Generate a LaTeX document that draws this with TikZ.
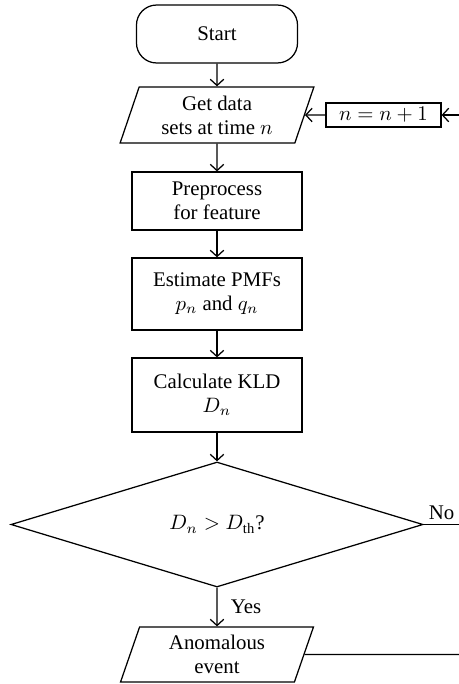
\documentclass[tikz,border=0pt]{standalone}
\usepackage{fontspec}
\setmainfont{Liberation Serif}
\usetikzlibrary{shapes.geometric,arrows.meta}
\tikzset{
	khung/.style={draw,rectangle,minimum width=81.6pt,align=center,inner sep=1pt},
	hbh/.style={draw,trapezium,trapezium left angle=66,trapezium right angle=114,
		trapezium stretches body,minimum width=93pt,minimum height=26.9pt,
		align=center,inner sep=1pt},
}
\begin{document}
\begin{tikzpicture}[x=0.48pt,y=-0.48pt,line width=0.6pt,
	>={Straight Barb[length=3pt,width=6.5pt]},
	font=\fontsize{10}{11.5}\selectfont]
	\useasboundingbox (0,0) rectangle (459,684);
	%Khung bat dau
	\node[draw,rectangle,rounded corners=9.6pt,minimum width=77.3pt,minimum height=27.8pt] (batdau) at (217,34) {Start};
	%Khung 1
	\node[hbh] (laydl) at (217,115) {Get data\\sets at time $n$};
	\node[khung,minimum width=55.2pt,minimum height=11.5pt] (tang) at (383.5,115) {$n=n+1$};
	%Khung 2,3,4
	\node[khung,minimum height=27.8pt] (tienxl) at (217,201) {Preprocess\\for feature};
	\node[khung,minimum height=34.6pt] (uocluong) at (217,294) {Estimate PMFs\\$p_n$ and $q_n$};
	\node[khung,minimum height=35.5pt] (tinh) at (217,395) {Calculate KLD\\$D_n$};
	%Dieu kien
	\node[draw,diamond,minimum width=197.8pt,minimum height=60pt,inner sep=0pt] (dk) at (217,524.5) {$D_n > D_{\mathrm{th}}$?};
	%Ket qua
	\node[hbh,minimum width=92.6pt,minimum height=26.4pt] (batthuong) at (217,654.5) {Anomalous\\event};
	%Mep phai
	\coordinate (vao) at (459,115);
	\coordinate (ra1) at (459,524.5);
	\coordinate (ra2) at (459,654.5);
	%Mui ten
	\draw[->] (batdau.south)--(laydl.north);
	\draw[->] (laydl.south)--(tienxl.north);
	\draw[->] (tienxl.south)--(uocluong.north);
	\draw[->] (uocluong.south)--(tinh.north);
	\draw[->] (tinh.south)--(dk.north);
	\draw[->] (dk.south)--(batthuong.north) node[midway,right,xshift=3pt]{Yes};
	\draw (dk.east)--(ra1) node[pos=1,above left,inner sep=2pt]{No};
	\draw (batthuong.east)--(ra2);
	\draw[->] (vao)--(tang.east);
	\draw[->] (tang.west)--(laydl.east);
\end{tikzpicture}
\end{document}
